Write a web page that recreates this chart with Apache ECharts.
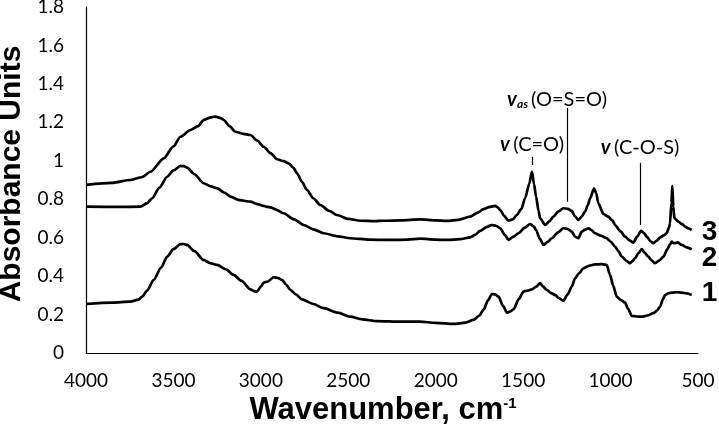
<!DOCTYPE html>
<html>
<head>
<meta charset="utf-8">
<script src="https://cdn.jsdelivr.net/npm/echarts@6/dist/echarts.min.js"></script>
<style>html,body{margin:0;padding:0;background:#fff}#c{width:719px;height:428px}</style>
</head>
<body>
<div id="c"></div>
<script>
// Wavenumber (cm-1), absorbance pairs
const spectrum3 = [[4000,0.875],[3850,0.885],[3746,0.90],[3680,0.915],[3631,0.943],[3555,1.013],[3500,1.075],[3460,1.125],[3403,1.16],[3360,1.18],[3327,1.212],[3290,1.225],[3260,1.23],[3230,1.222],[3212,1.212],[3180,1.18],[3146,1.151],[3100,1.14],[3060,1.134],[3020,1.105],[2984,1.073],[2945,1.04],[2907,1.008],[2870,0.998],[2841,0.987],[2815,0.965],[2793,0.935],[2765,0.89],[2736,0.848],[2700,0.805],[2660,0.77],[2610,0.74],[2565,0.718],[2500,0.698],[2431,0.688],[2350,0.686],[2298,0.688],[2200,0.69],[2089,0.695],[2000,0.69],[1936,0.687],[1870,0.693],[1803,0.709],[1760,0.73],[1727,0.748],[1690,0.76],[1660,0.765],[1645,0.758],[1631,0.744],[1610,0.715],[1584,0.688],[1560,0.695],[1536,0.718],[1510,0.75],[1489,0.805],[1465,0.88],[1450,0.943],[1438,0.88],[1426,0.813],[1412,0.74],[1403,0.701],[1374,0.666],[1350,0.685],[1327,0.709],[1300,0.735],[1270,0.753],[1245,0.75],[1222,0.739],[1203,0.71],[1184,0.692],[1165,0.71],[1146,0.735],[1130,0.77],[1117,0.805],[1094,0.857],[1082,0.83],[1070,0.779],[1041,0.723],[1013,0.709],[990,0.69],[974,0.666],[945,0.635],[917,0.605],[890,0.585],[870,0.574],[848,0.605],[826,0.636],[810,0.625],[793,0.605],[770,0.58],[755,0.571],[735,0.585],[717,0.602],[695,0.612],[679,0.623],[665,0.655],[660,0.675],[652,0.78],[647,0.869],[641,0.76],[635,0.701],[612,0.683],[590,0.67],[574,0.657],[555,0.648],[536,0.64]];
const spectrum2 = [[4000,0.761],[3800,0.76],[3689,0.761],[3650,0.78],[3622,0.805],[3580,0.86],[3536,0.917],[3500,0.95],[3460,0.973],[3440,0.972],[3422,0.964],[3380,0.93],[3327,0.883],[3290,0.868],[3250,0.857],[3210,0.835],[3174,0.813],[3120,0.795],[3060,0.787],[3020,0.775],[2984,0.765],[2960,0.76],[2946,0.758],[2910,0.745],[2870,0.727],[2810,0.695],[2755,0.666],[2700,0.643],[2641,0.623],[2560,0.607],[2489,0.597],[2380,0.59],[2260,0.588],[2160,0.59],[2089,0.595],[2000,0.59],[1936,0.588],[1860,0.592],[1803,0.602],[1775,0.615],[1746,0.635],[1710,0.655],[1679,0.666],[1655,0.662],[1631,0.649],[1605,0.615],[1584,0.588],[1555,0.605],[1527,0.623],[1490,0.652],[1460,0.671],[1440,0.66],[1426,0.64],[1405,0.595],[1384,0.562],[1360,0.578],[1336,0.597],[1300,0.628],[1270,0.649],[1245,0.645],[1222,0.631],[1203,0.605],[1184,0.597],[1165,0.631],[1145,0.642],[1127,0.649],[1110,0.64],[1089,0.623],[1055,0.61],[1022,0.597],[1000,0.58],[974,0.553],[955,0.53],[936,0.501],[910,0.48],[889,0.467],[875,0.478],[860,0.493],[840,0.52],[822,0.54],[805,0.522],[784,0.501],[765,0.482],[746,0.467],[720,0.482],[698,0.501],[675,0.54],[660,0.565],[650,0.579],[640,0.572],[631,0.571],[615,0.575],[593,0.562],[565,0.55],[536,0.54]];
const spectrum1 = [[4000,0.255],[3850,0.262],[3746,0.267],[3700,0.278],[3679,0.293],[3650,0.325],[3613,0.38],[3570,0.445],[3536,0.501],[3500,0.54],[3460,0.566],[3440,0.567],[3422,0.562],[3380,0.53],[3327,0.484],[3290,0.468],[3250,0.458],[3200,0.435],[3155,0.406],[3110,0.375],[3060,0.331],[3040,0.322],[3022,0.319],[3000,0.345],[2984,0.366],[2960,0.372],[2927,0.394],[2900,0.39],[2879,0.38],[2855,0.355],[2831,0.328],[2800,0.305],[2765,0.279],[2700,0.255],[2641,0.233],[2560,0.21],[2489,0.189],[2420,0.175],[2336,0.166],[2200,0.163],[2089,0.163],[2000,0.157],[1898,0.151],[1830,0.158],[1784,0.172],[1750,0.195],[1727,0.224],[1700,0.275],[1679,0.307],[1660,0.305],[1641,0.293],[1615,0.245],[1593,0.21],[1575,0.215],[1555,0.227],[1525,0.28],[1498,0.319],[1475,0.325],[1450,0.331],[1425,0.345],[1403,0.363],[1385,0.345],[1365,0.328],[1340,0.312],[1317,0.302],[1295,0.285],[1270,0.272],[1245,0.305],[1222,0.345],[1203,0.389],[1180,0.415],[1155,0.441],[1120,0.455],[1089,0.461],[1050,0.462],[1022,0.458],[1003,0.406],[985,0.35],[965,0.293],[940,0.275],[917,0.262],[900,0.23],[879,0.193],[850,0.19],[822,0.189],[790,0.195],[755,0.207],[735,0.22],[717,0.241],[700,0.28],[688,0.302],[670,0.31],[650,0.314],[620,0.316],[593,0.314],[565,0.31],[536,0.302]];
const seriesNames = ['3', '2', '1'];
// Annotation bands: [wavenumber, lower absorbance, upper absorbance]
const annCO = [1449, 0.978, 1.02];
const annOSO = [1249, 0.786, 1.275];
const annCOS = [831, 0.666, 0.989];

const tickFont = 'Lato, "Open Sans", sans-serif';
const boldFont = '"Liberation Sans", Arial, sans-serif';

function endMark(name, data, dy) {
  const last = data[data.length - 1];
  return {
    silent: true,
    animation: false,
    symbol: 'circle',
    symbolSize: 0,
    itemStyle: { color: 'rgba(0,0,0,0)' },
    data: [{ coord: last, value: name }],
    label: {
      show: true,
      position: 'right',
      distance: 10,
      formatter: name,
      color: '#000',
      fontFamily: boldFont,
      fontWeight: 'bold',
      fontSize: 28,
      offset: [0, dy]
    }
  };
}

function line(name, data, dy, extra) {
  return Object.assign({
    name: name,
    type: 'line',
    data: data,
    showSymbol: false,
    symbol: 'none',
    smooth: 0.25,
    smoothMonotone: 'x',
    lineStyle: { color: '#000', width: 2.7 },
    itemStyle: { color: '#000' },
    silent: true,
    markPoint: endMark(name, data, dy)
  }, extra || {});
}

function ann(a, text, offset) {
  return [
    { coord: [a[0], a[1]], symbol: 'none' },
    { coord: [a[0], a[2]], symbol: 'none',
      label: { show: true, position: 'end', formatter: text, offset: offset || [0, 0] } }
  ];
}

const rich = {
  v: { fontStyle: 'italic', fontWeight: 'bold', fontSize: 20, fontFamily: tickFont, color: '#000' },
  s: { fontStyle: 'italic', fontWeight: 'bold', fontSize: 12, fontFamily: tickFont, color: '#000', padding: [9, 3, 0, 0] },
  t: { fontSize: 20, fontFamily: tickFont, color: '#000' }
};

const chart = echarts.init(document.getElementById('c'), null, { renderer: 'canvas' });
chart.setOption({
  animation: false,
  backgroundColor: '#fff',
  grid: { left: 86, right: 21, top: 7, bottom: 75, containLabel: false, outerBoundsMode: 'none' },
  xAxis: {
    type: 'value',
    inverse: true,
    min: 500,
    max: 4000,
    interval: 500,
    axisLine: { show: true, lineStyle: { color: '#000', width: 1.2 } },
    axisTick: { show: false },
    splitLine: { show: false },
    axisLabel: { color: '#000', fontFamily: tickFont, fontSize: 19, margin: 18, formatter: v => String(v) },
    name: '{a|Wavenumber, cm}{b|-1}',
    nameLocation: 'middle',
    nameGap: 42,
    nameTextStyle: {
      rich: {
        a: { fontFamily: boldFont, fontWeight: 'bold', fontSize: 31, color: '#000' },
        b: { fontFamily: boldFont, fontWeight: 'bold', fontSize: 15, color: '#000', padding: [0, 0, 14, 0] }
      },
      padding: [0, 18, 0, 0]
    }
  },
  yAxis: {
    type: 'value',
    min: 0,
    max: 1.8,
    interval: 0.2,
    axisLine: { show: true, lineStyle: { color: '#000', width: 1.2 } },
    axisTick: { show: false },
    splitLine: { show: false },
    axisLabel: { color: '#000', fontFamily: tickFont, fontSize: 19, margin: 22, formatter: v => String(+v.toFixed(1)) },
    name: 'Absorbance Units',
    nameLocation: 'middle',
    nameGap: 43,
    nameTextStyle: { fontFamily: boldFont, fontWeight: 'bold', fontSize: 30, color: '#000', padding: [0, 0, 0, 12] }
  },
  series: [
    line(seriesNames[0], spectrum3, 2, {
      markLine: {
        silent: true,
        symbol: 'none',
        animation: false,
        lineStyle: { color: '#000', width: 1.2, type: 'solid' },
        label: { color: '#000', rich: rich, distance: 3 },
        data: [
          ann(annCO, '{v|v} {t|(C=O)}', [0, 1]),
          ann(annOSO, '{v|v}{s|as}{t|(O=S=O)}', [-10, 5]),
          ann(annCOS, '{v|v} {t|(C-O-S)}', [0, -2])
        ]
      }
    }),
    line(seriesNames[1], spectrum2, 9),
    line(seriesNames[2], spectrum1, -2)
  ]
});
</script>
</body>
</html>
